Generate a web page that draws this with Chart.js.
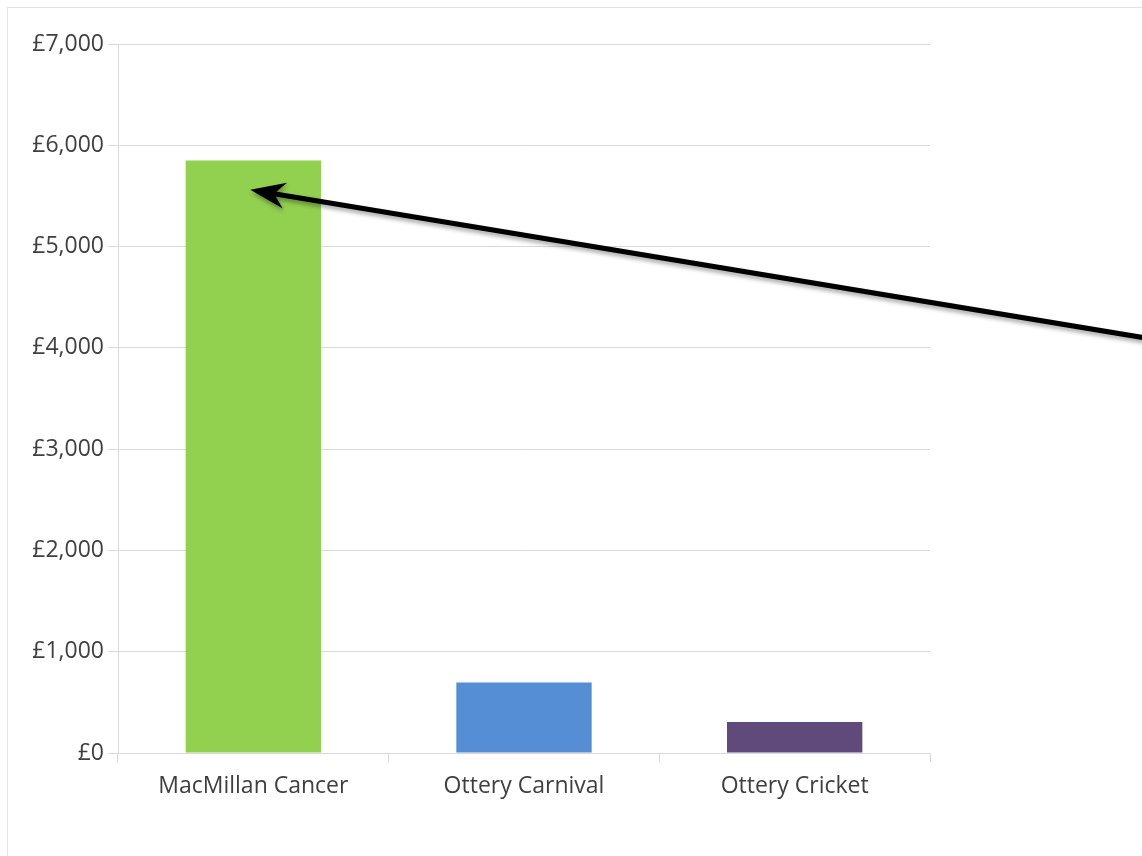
<!DOCTYPE html>
<html>
<head>
<meta charset="utf-8">
<script src="https://cdn.jsdelivr.net/npm/chart.js@4"></script>
<style>
    html, body { margin: 0; padding: 0; background: #fff; }
    #wrap { position: relative; width: 1142px; height: 856px; }
    #frame { position: absolute; left: 7px; top: 7px; right: -10px; bottom: -10px; border: 1px solid #e3e3e3; }
    canvas { position: absolute; left: 0; top: 0; }
</style>
</head>
<body>
<div id="wrap">
    <div id="frame"></div>
    <canvas id="donations" width="1142" height="856"></canvas>
</div>
<script>
const charities = ['MacMillan Cancer', 'Ottery Carnival', 'Ottery Cricket'];
const amounts = [5850, 695, 305];
const barColours = ['#92d050', '#558ed5', '#604a7b'];
const yTicks = [0, 1000, 2000, 3000, 4000, 5000, 6000, 7000];

// arrow annotation, in data terms: tip sits inside the first bar
const arrowTip = { index: 0, value: 5560 };
const arrowTailValue = 4100; // height where the arrow leaves the right edge

const gridGrey = '#d9d9d9';
const textGrey = '#3f3f3f';
const font = { family: "'Open Sans', 'Liberation Sans', sans-serif", size: 23 };

const arrowPlugin = {
    id: 'arrow',
    afterDatasetsDraw(chart) {
        const ctx = chart.ctx;
        const x = chart.scales.x, y = chart.scales.y;
        const tx = x.getPixelForValue(arrowTip.index) - 3;
        const ty = y.getPixelForValue(arrowTip.value);
        const sx = chart.width + 2;
        const sy = y.getPixelForValue(arrowTailValue);
        const ang = Math.atan2(sy - ty, sx - tx);
        const len = 35, half = 13, notch = 24;

        ctx.save();
        ctx.shadowColor = 'rgba(0,0,0,0.35)';
        ctx.shadowBlur = 4;
        ctx.shadowOffsetX = 1;
        ctx.shadowOffsetY = 3;
        ctx.strokeStyle = '#000';
        ctx.lineWidth = 5;
        ctx.beginPath();
        ctx.moveTo(sx, sy);
        ctx.lineTo(tx + Math.cos(ang) * notch, ty + Math.sin(ang) * notch);
        ctx.stroke();

        ctx.translate(tx, ty);
        ctx.rotate(ang);
        ctx.fillStyle = '#000';
        ctx.beginPath();
        ctx.moveTo(0, 0);
        ctx.lineTo(len, -half);
        ctx.lineTo(notch, 0);
        ctx.lineTo(len, half);
        ctx.closePath();
        ctx.fill();
        ctx.restore();
    }
};

new Chart(document.getElementById('donations'), {
    type: 'bar',
    data: {
        labels: charities,
        datasets: [{
            data: amounts,
            backgroundColor: barColours,
            categoryPercentage: 1,
            barPercentage: 0.5
        }]
    },
    options: {
        responsive: false,
        animation: false,
        events: [],
        layout: { padding: { left: 8, top: 44, right: 212, bottom: 0 } },
        plugins: {
            legend: { display: false },
            tooltip: { enabled: false }
        },
        scales: {
            x: {
                grid: { drawOnChartArea: false, drawTicks: true, tickLength: 9, color: gridGrey },
                border: { color: gridGrey, width: 1 },
                ticks: { color: textGrey, font: font, padding: 11 },
                afterFit: s => { s.height = 103; }
            },
            y: {
                min: 0,
                max: 7000,
                afterBuildTicks: s => { s.ticks = yTicks.map(v => ({ value: v })); },
                grid: { color: gridGrey, tickLength: 10 },
                border: { color: gridGrey, width: 1 },
                ticks: {
                    color: textGrey,
                    font: font,
                    padding: 4,
                    callback: v => '£' + v.toLocaleString('en-GB')
                },
                afterFit: s => { s.width = 110; }
            }
        }
    },
    plugins: [arrowPlugin]
});
</script>
</body>
</html>
